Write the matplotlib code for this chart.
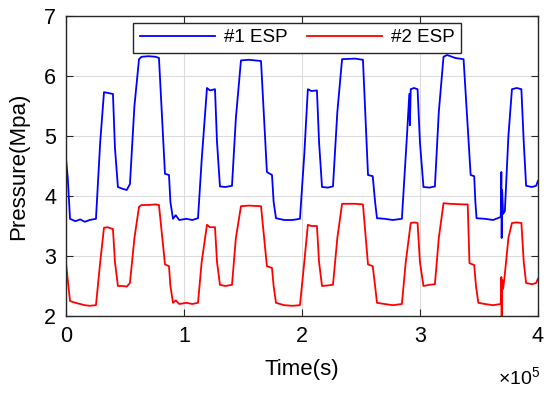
import matplotlib
matplotlib.use("Agg")
import matplotlib.pyplot as plt
from matplotlib.ticker import FuncFormatter

plt.rcParams['font.family'] = ['Liberation Sans', 'DejaVu Sans']
plt.rcParams['mathtext.fontset'] = 'custom'
plt.rcParams['mathtext.rm'] = 'Liberation Sans'

# time (s) and pressure (MPa)
t_esp1 = [0, 1500, 3400, 8000, 12000, 16000, 20000, 25400,
          29000, 32200, 35000, 39800,
          41500, 44000, 48000, 51500, 54200,
          58000, 61900, 64000, 70000, 76000, 78800,
          83900, 87300, 88500, 90700, 93000, 96000, 102000, 107000, 111900,
          115000, 119500, 122000, 126300,
          128000, 130500, 135000, 140700,
          144000, 148300, 155000, 165300,
          170300, 174600, 176000, 178000, 185000, 192000, 198300,
          202000, 205000, 208000, 212700,
          214500, 217000, 222000, 226300,
          230000, 234000, 245000, 251700,
          256000, 260000, 262000, 263600, 270000, 277000, 284700,
          289000, 291000, 291500, 292200, 295000, 298000,
          300000, 303000, 308000, 312700,
          316000, 320000, 323000, 330000, 337000,
          343000, 346000, 347000, 348000, 355000, 362000, 368500,
          369000, 369300, 369700, 370500, 372000,
          375000, 378000, 382000, 386000,
          388000, 390000, 395000, 398500, 400000]
p_esp1 = [4.62, 4.3, 3.62, 3.58, 3.61, 3.57, 3.60, 3.62,
          4.9, 5.73, 5.72, 5.70,
          4.8, 4.15, 4.12, 4.10, 4.2,
          5.5, 6.28, 6.32, 6.33, 6.32, 6.30,
          4.37, 4.35, 3.9, 3.62, 3.68, 3.60, 3.62, 3.60, 3.63,
          4.6, 5.80, 5.76, 5.78,
          4.9, 4.16, 4.15, 4.17,
          5.3, 6.26, 6.27, 6.25,
          4.40, 4.35, 3.9, 3.63, 3.60, 3.60, 3.62,
          4.7, 5.78, 5.75, 5.76,
          4.9, 4.15, 4.14, 4.16,
          5.4, 6.28, 6.29, 6.27,
          4.35, 4.33, 3.9, 3.63, 3.62, 3.60, 3.62,
          5.0, 5.7, 5.18, 5.78, 5.80, 5.78,
          4.9, 4.15, 4.14, 4.16,
          5.4, 6.32, 6.35, 6.30, 6.28,
          4.35, 4.33, 3.9, 3.63, 3.62, 3.60, 3.65,
          4.4, 3.3, 4.1, 3.7, 3.75,
          5.0, 5.78, 5.80, 5.78,
          4.9, 4.17, 4.15, 4.17, 4.25]

t_esp2 = [0, 1500, 3400, 8000, 12000, 16000, 20000, 25400,
          29000, 32200, 35000, 39800,
          41500, 44000, 48000, 51500, 54200,
          58000, 61900, 64000, 70000, 76000, 78800,
          83900, 87300, 88500, 90700, 93000, 96000, 102000, 107000, 111900,
          115000, 119500, 122000, 126300,
          128000, 130500, 135000, 140700,
          144000, 148300, 155000, 165300,
          170300, 174600, 176000, 178000, 185000, 192000, 198300,
          202000, 205000, 208000, 212700,
          214500, 217000, 222000, 226300,
          230000, 234000, 245000, 251700,
          256000, 260000, 262000, 263600, 270000, 277000, 284700,
          288000, 292200, 295000, 298000,
          300000, 303000, 308000, 312700,
          316000, 320000, 325000, 337000, 340500,
          342000, 346000, 347500, 349500, 355000, 362000, 368500,
          369000, 369300, 369700, 370500, 372000,
          375000, 378000, 382000, 386000,
          388000, 390000, 395000, 398500, 400000]
p_esp2 = [2.88, 2.6, 2.25, 2.22, 2.20, 2.18, 2.17, 2.18,
          2.9, 3.47, 3.48, 3.45,
          2.9, 2.5, 2.50, 2.49, 2.55,
          3.3, 3.82, 3.85, 3.85, 3.86, 3.85,
          2.86, 2.83, 2.5, 2.22, 2.26, 2.20, 2.22, 2.20, 2.22,
          2.9, 3.52, 3.48, 3.48,
          2.9, 2.52, 2.50, 2.52,
          3.3, 3.83, 3.84, 3.83,
          2.83, 2.80, 2.5, 2.22, 2.18, 2.17, 2.18,
          2.9, 3.52, 3.50, 3.50,
          2.9, 2.50, 2.51, 2.52,
          3.3, 3.87, 3.87, 3.86,
          2.86, 2.83, 2.5, 2.22, 2.20, 2.18, 2.20,
          2.9, 3.55, 3.56, 3.55,
          2.9, 2.50, 2.52, 2.53,
          3.3, 3.88, 3.87, 3.86, 3.86,
          2.88, 2.85, 2.5, 2.22, 2.20, 2.18, 2.20,
          2.65, 2.0, 2.6, 2.45, 2.7,
          3.3, 3.55, 3.56, 3.55,
          2.9, 2.55, 2.53, 2.55, 2.62]

fig = plt.figure(figsize=(5.5, 3.95), dpi=100)
ax = fig.add_axes([0.12, 0.2, 0.858, 0.7595])

ax.plot(t_esp1, p_esp1, color=(0, 0, 1), lw=1.3, label='#1 ESP')
ax.plot(t_esp2, p_esp2, color=(1, 0, 0), lw=1.3, label='#2 ESP')

ax.set_xlim(0, 4e5)
ax.set_ylim(2, 7)
ax.set_xticks([0, 1e5, 2e5, 3e5, 4e5])
ax.set_yticks([2, 3, 4, 5, 6, 7])
ax.xaxis.set_major_formatter(FuncFormatter(lambda v, pos: '%g' % (v / 1e5)))

ax.grid(True, color='#dcdcdc', lw=0.8)
ax.set_axisbelow(True)
ax.tick_params(direction='in', top=True, right=True, length=5, width=0.8,
               labelsize=15.5, colors='#262626', labelcolor='black', pad=7)
for s in ax.spines.values():
    s.set_color('#262626')
    s.set_linewidth(1.0)

ax.set_xlabel('Time(s)', fontsize=16, labelpad=9)
ax.set_ylabel('Pressure(Mpa)', fontsize=16, labelpad=11)

fig.text(0.982, 0.015, r'$\times10^{5}$', fontsize=14, ha='right', va='bottom')

ax.legend(loc='upper center', bbox_to_anchor=(0.49, 0.99), ncol=2,
          fontsize=13.5, frameon=True, fancybox=False, edgecolor='#262626',
          handlelength=4.0, borderpad=0.35, columnspacing=1.0,
          handletextpad=0.5, framealpha=1, borderaxespad=0.2)

fig.savefig('out.png', dpi=100)
